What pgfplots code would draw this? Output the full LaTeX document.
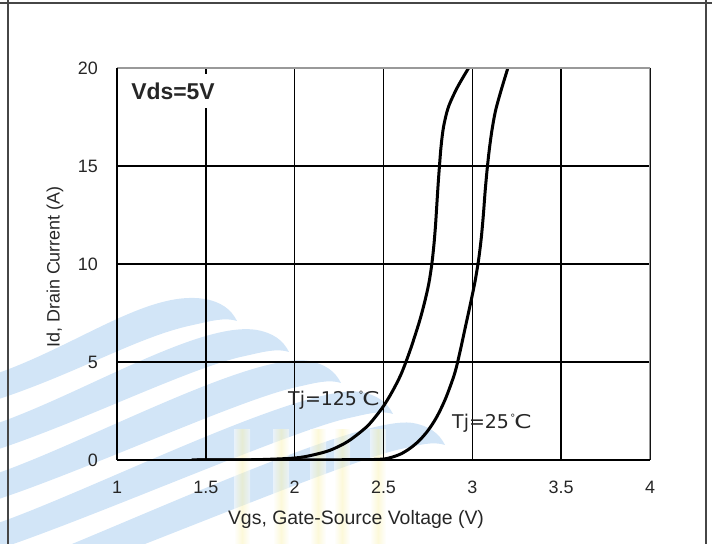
\documentclass[border=0pt]{standalone}
\usepackage{pgfplots}
\pgfplotsset{compat=1.18}
\usepackage{fontspec}
\setmainfont{Liberation Sans}
\newfontfamily\labelfont{DejaVu Sans}
\definecolor{wave}{RGB}{210,229,247}
\definecolor{stripe}{RGB}{250,243,180}
\definecolor{inkgray}{RGB}{38,38,38}
\definecolor{framegray}{RGB}{70,70,70}

% degree Celsius sign: small ring and a wide C
\newcommand{\degC}{\kern1.5bp\raisebox{7bp}{\fontsize{10}{10}\selectfont\labelfont\char"00B0}\kern-1bp\scalebox{1.3}[1]{\labelfont C}}

% transfer characteristics, Vds = 5 V
\pgfplotstableread{
vgs   id
1.42  0
1.60  0.004
1.80  0.02
2.00  0.10
2.10  0.25
2.20  0.50
2.30  0.95
2.40  1.65
2.45  2.15
2.50  2.75
2.55  3.50
2.60  4.40
2.65  5.60
2.70  7.00
2.73  8.00
2.755 9.00
2.772 10.00
2.784 11.00
2.793 12.00
2.800 13.00
2.807 14.00
2.815 15.00
2.824 16.00
2.838 17.00
2.865 18.00
2.915 19.00
2.979 20.00
}\tjhot

\pgfplotstableread{
vgs   id
1.45  0
2.00  0.005
2.40  0.02
2.50  0.05
2.55  0.15
2.60  0.32
2.65  0.60
2.70  0.98
2.75  1.50
2.80  2.20
2.85  3.15
2.90  4.40
2.93  5.50
2.96  6.75
2.99  8.00
3.015 9.10
3.035 10.20
3.050 11.30
3.062 12.50
3.072 13.70
3.083 14.80
3.095 15.80
3.110 16.80
3.130 17.80
3.160 18.80
3.200 20.00
}\tjcold

\begin{document}
\begin{tikzpicture}
\useasboundingbox (0,0) rectangle (712bp,544bp);
\clip (0,0) rectangle (712bp,544bp);

% background logo: waves and soft stripes
\begin{scope}[x=1bp,y=-1bp,shift={(0,544bp)}]
  \foreach \i in {0,...,4}{
    \pgfmathsetmacro{\ys}{392+50*\i}
    \pgfmathsetmacro{\cx}{215+52*\i}
    \pgfmathsetmacro{\cy}{311+31*\i}
    \fill[wave]
      (-20,\ys-13) .. controls (70,\ys-40) and (\cx-70,\cy-22) .. (\cx-10,\cy-12)
      .. controls (\cx+6,\cy-9) and (\cx+16,\cy-2) .. (\cx+22,\cy+10)
      .. controls (\cx+10,\cy+6) and (\cx-4,\cy+10) .. (\cx-22,\cy+14)
      .. controls (\cx-80,\cy+26) and (70,\ys-14) .. (-20,\ys+13) -- cycle;
  }
  \foreach \sx in {242,281,318,342,378}{
    \shade[left color=white, right color=white, middle color=stripe, opacity=0.5]
      (\sx-8,430) rectangle (\sx+8,544);
  }
  % outer frame
  \draw[framegray, line width=2bp] (0,3) -- (712,3);
  \draw[framegray, line width=2bp] (8,0) -- (8,544);
  \draw[framegray, line width=2bp] (706,0) -- (706,544);
\end{scope}

\begin{axis}[
  at={(117bp,84bp)}, anchor=south west,
  scale only axis, width=533bp, height=392bp,
  xmin=1, xmax=4, ymin=0, ymax=20,
  xtick={1,1.5,2,2.5,3,3.5,4}, xticklabels={1,1.5,2,2.5,3,3.5,4},
  ytick={0,5,10,15,20}, yticklabels={0,5,10,15,20},
  major tick length=0pt, tick style={draw=none},
  xmajorgrids, ymajorgrids,
  grid style={black, line width=1.4bp},
  axis line style={draw=none},
  ticklabel style={font=\fontsize{18}{20}\selectfont, text=inkgray, inner sep=0pt},
  xticklabel style={anchor=center, yshift=-27bp},
  yticklabel style={anchor=east, xshift=-19bp},
]
  \addplot[black, line width=3bp, smooth, tension=0.5] table[x=vgs, y=id] {\tjhot};
  \addplot[black, line width=3bp, smooth, tension=0.5] table[x=vgs, y=id] {\tjcold};
  \draw[gray!80, line width=1.8bp] (rel axis cs:0,1) -- (rel axis cs:1,1) -- (rel axis cs:1,0);
  \draw[black, line width=1.8bp] (rel axis cs:0,1) -- (rel axis cs:0,0) -- (rel axis cs:1,0);
\end{axis}

\begin{scope}[x=1bp,y=-1bp,shift={(0,544bp)}]
  \node[font=\fontsize{19.5}{22}\selectfont, text=inkgray] at (356,519)
    {Vgs, Gate-Source Voltage (V)};
  \node[font=\fontsize{18}{20}\selectfont, text=inkgray, rotate=90] at (55,267)
    {Id, Drain Current (A)};
  \node[font=\fontsize{23}{26}\selectfont\bfseries, text=inkgray, fill=white,
        inner xsep=4bp, inner ysep=9bp] at (173,91) {Vds=5V};
  \node[anchor=base west, inner sep=0pt, text=inkgray] at (288,406)
    {\fontsize{19}{22}\selectfont\labelfont Tj=125\degC};
  \node[anchor=base west, inner sep=0pt, text=inkgray] at (452,429)
    {\fontsize{19}{22}\selectfont\labelfont Tj=25\degC};
\end{scope}
\end{tikzpicture}
\end{document}
